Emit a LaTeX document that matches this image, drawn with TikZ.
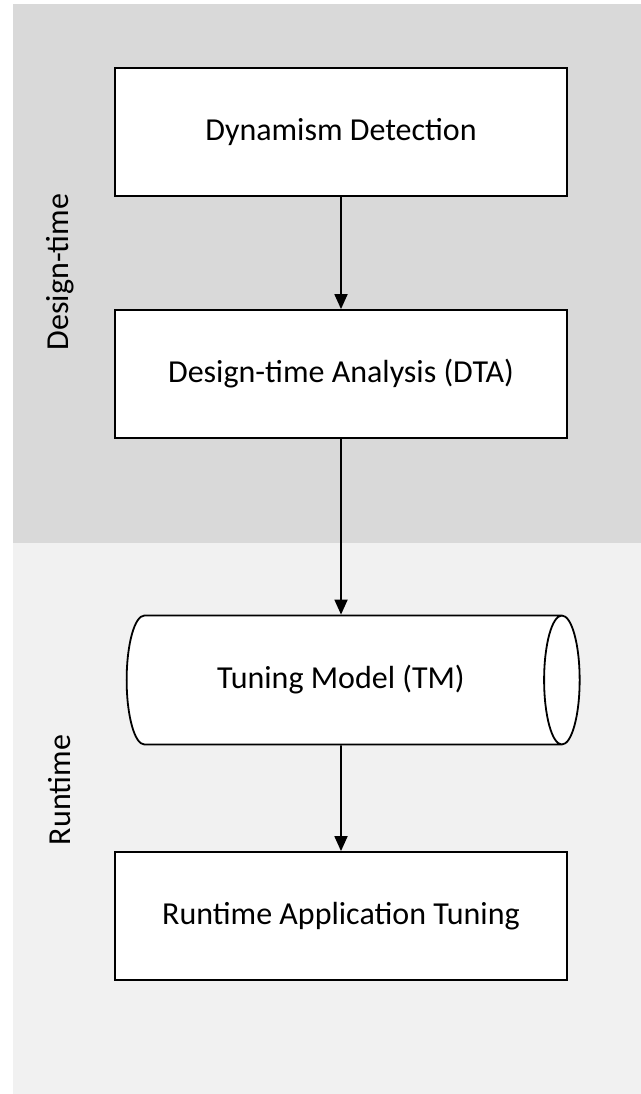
\documentclass[tikz,border=0pt]{standalone}
\usepackage{fontspec}
\setmainfont{Carlito}
\usetikzlibrary{arrows.meta}
\usetikzlibrary{shapes.geometric}

\begin{document}
\begin{tikzpicture}[x=1bp,y=-1bp,
	stagebox/.style={draw,line width=1.8bp,fill=white,minimum width=452bp,minimum height=128bp,font=\fontsize{32bp}{38bp}\selectfont},
	modeldb/.style={cylinder,draw,line width=1.8bp,fill=white,aspect=1.0,minimum width=129bp,minimum height=453bp,font=\fontsize{32bp}{38bp}\selectfont},
	phase/.style={rotate=90,font=\fontsize{32bp}{38bp}\selectfont},
	flow/.style={draw,line width=1.8bp,-{Triangle[length=15bp,width=13bp]}}]
	\useasboundingbox (0,0) rectangle (641,1094);
% the two phases
	\fill[gray!30] (13,4) rectangle (641,543);
	\fill[gray!11] (13,543) rectangle (641,1094);
	\node[phase] (designlbl) at (60,272) {Design-time};
	\node[phase] (runlbl) at (60,790) {Runtime};
% steps
	\node[stagebox] (detect) at (341,132) {Dynamism Detection};
	\node[stagebox] (dta) at (341,374) {Design-time Analysis (DTA)};
	\node[modeldb] (tm) at (341,680) {Tuning Model (TM)};
	\node[stagebox] (tuning) at (341,916) {Runtime Application Tuning};
	\draw[flow] (detect) -- (dta);
	\draw[flow] (dta) -- (tm);
	\draw[flow] (tm) -- (tuning);
\end{tikzpicture}
\end{document}
